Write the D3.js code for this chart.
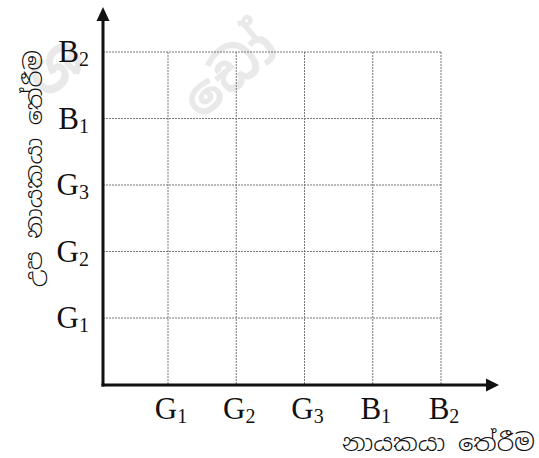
<!doctype html>
<html>
<head>
<meta charset="utf-8">
<title>නායකයා තේරීම</title>
<style>
*{margin:0;padding:0;}
body{background:white;}
</style>
</head>
<body>
<script src="https://cdn.jsdelivr.net/npm/d3@7"></script>
<script>
// categories (letter + subscript)
var xCats = ["G1", "G2", "G3", "B1", "B2"];
var yCats = ["G1", "G2", "G3", "B1", "B2"];
var xTitle = "නායකයා තේරීම";
var yTitle = "උප නායකයා තේරීම";
var mark = ["ශ", "ඩෝ"];

var W = 539, H = 458;
var svg = d3.select("body").append("svg").attr("width", W).attr("height", H);

var x0 = 103, y0 = 385;
var x = d3.scalePoint().domain(xCats).range([168, 441]);
var y = d3.scalePoint().domain(yCats).range([318, 52]);

// faint watermark
var wm = svg.append("g").attr("fill", "#e9e9e9").attr("font-family", "'Noto Sans Sinhala','Noto Sans',sans-serif")
  .attr("font-weight", "bold");
wm.append("text").attr("font-size", 60).attr("transform", "translate(58,70) rotate(-40)").attr("text-anchor", "middle")
  .attr("dominant-baseline", "middle").text(mark[0]);
wm.append("text").attr("font-size", 54).attr("transform", "translate(232,76) rotate(-40)").attr("text-anchor", "middle")
  .attr("dominant-baseline", "middle").text(mark[1]);

// dotted grid
var grid = svg.append("g").attr("stroke", "#777").attr("stroke-width", 1).attr("stroke-dasharray", "2,1");
grid.selectAll(".v").data(xCats).enter().append("line")
  .attr("x1", function(d){ return x(d); }).attr("x2", function(d){ return x(d); })
  .attr("y1", y(yCats[yCats.length-1])).attr("y2", y0);
grid.selectAll(".h").data(yCats).enter().append("line")
  .attr("x1", x0).attr("x2", x(xCats[xCats.length-1]))
  .attr("y1", function(d){ return y(d); }).attr("y2", function(d){ return y(d); });

// axes with arrows
svg.append("line").attr("x1", x0 - 1.5).attr("y1", y0).attr("x2", 488).attr("y2", y0)
  .attr("stroke", "#111").attr("stroke-width", 3);
svg.append("path").attr("d", "M499," + y0 + " L486," + (y0 - 6.5) + " L486," + (y0 + 6.5) + "Z").attr("fill", "#111");
svg.append("line").attr("x1", x0).attr("y1", y0 + 1.5).attr("x2", x0).attr("y2", 19)
  .attr("stroke", "#111").attr("stroke-width", 3);
svg.append("path").attr("d", "M" + x0 + ",7 L" + (x0 - 6.5) + ",21 L" + (x0 + 6.5) + ",21Z").attr("fill", "#111");

// tick labels with subscripts
function label(sel) {
  sel.text(function(d){ return d[0]; })
    .append("tspan").attr("font-size", 20).attr("dy", 4).text(function(d){ return d.slice(1); });
}
var lab = svg.append("g").attr("font-family", "'Liberation Serif','Times New Roman',serif")
  .attr("font-size", 31).attr("fill", "#111");
lab.selectAll(".xl").data(xCats).enter().append("text")
  .attr("x", function(d){ return x(d) + 3; }).attr("y", 419).attr("text-anchor", "middle").call(label);
lab.selectAll(".yl").data(yCats).enter().append("text")
  .attr("x", 89).attr("y", function(d){ return y(d) + 10; }).attr("text-anchor", "end").call(label);

// axis titles
var tf = "'Noto Sans Sinhala','Iskoola Pota','Noto Serif Sinhala',sans-serif";
svg.append("text").attr("x", 342).attr("y", 451).attr("font-family", tf).attr("font-size", 23).attr("fill", "#111")
  .attr("font-weight", 300).attr("textLength", 193).attr("lengthAdjust", "spacingAndGlyphs").text(xTitle);
svg.append("text").attr("transform", "translate(42,287) rotate(-90)").attr("font-family", tf).attr("font-size", 23)
  .attr("font-weight", 300).attr("fill", "#111").attr("textLength", 237).attr("lengthAdjust", "spacingAndGlyphs").text(yTitle);
</script>
</body>
</html>
